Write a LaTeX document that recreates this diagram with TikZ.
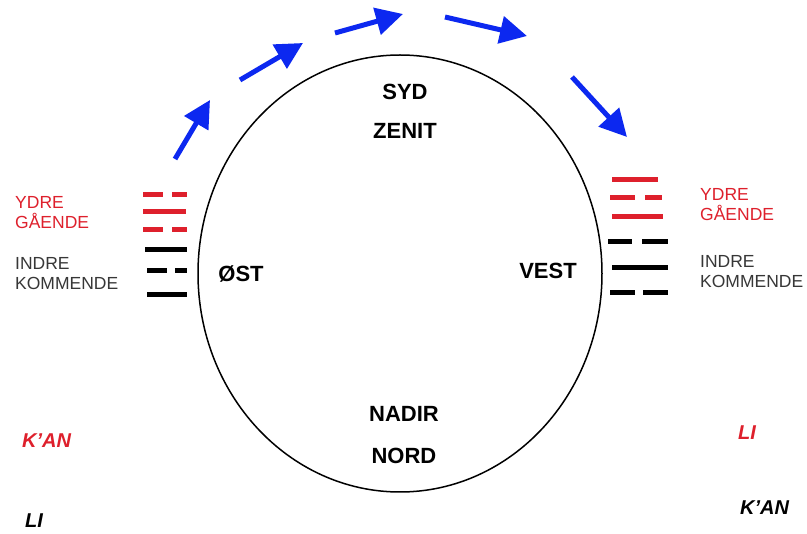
\documentclass[tikz,border=0pt]{standalone}
\usepackage{fontspec}
\setmainfont{Liberation Sans}
\usetikzlibrary{arrows.meta}
\definecolor{yred}{RGB}{222,32,44}
\definecolor{ytxt}{RGB}{55,55,55}
\definecolor{yblue}{RGB}{12,40,240}
\begin{document}
\begin{tikzpicture}[x=1pt,y=-1pt,
  big/.style={font=\fontsize{22}{22}\selectfont\bfseries, text=black, inner sep=0pt},
  side/.style={font=\fontsize{17.5}{20}\selectfont, align=left, anchor=west, inner sep=0pt},
  gua/.style={font=\fontsize{20}{20}\selectfont\bfseries\itshape, anchor=west, inner sep=0pt},
  yline/.style={line width=5pt, line cap=butt},
  sunarrow/.style={yblue, line width=5pt, -{Triangle[length=27pt,width=27pt]}}]
\useasboundingbox (0,0) rectangle (807,534);
\fill[white] (0,0) rectangle (807,534);
% circle of the sky
\draw[line width=1.5pt] (400,273.5) ellipse [x radius=202, y radius=218.5];
% directions
\node[big] (syd) at (405,92) {SYD};
\node[big] (zenit) at (405,131) {ZENIT};
\node[big] (nadir) at (404,414) {NADIR};
\node[big] (nord) at (404,456) {NORD};
\node[big] (ost) at (241,274) {ØST};
\node[big] (vest) at (548,271) {VEST};
% side labels
\node[side, text=yred] (ly) at (15,213) {YDRE\\GÅENDE};
\node[side, text=ytxt] (li) at (15,274) {INDRE\\KOMMENDE};
\node[side, text=yred] (ry) at (700,205) {YDRE\\GÅENDE};
\node[side, text=ytxt] (ri) at (700,272) {INDRE\\KOMMENDE};
% trigram names
\node[gua, text=yred] (lkan) at (22,441) {K'AN};
\node[gua, text=black] (lli) at (25,521) {LI};
\node[gua, text=yred] (rli) at (738,433) {LI};
\node[gua, text=black] (rkan) at (740,508) {K'AN};
% left trigrams
\draw[yline, yred] (143,195) -- (163,195) (172,195) -- (187,195);
\draw[yline, yred] (143,212) -- (186,212);
\draw[yline, yred] (143,230) -- (163,230) (172,230) -- (187,230);
\draw[yline, black] (145,250) -- (187,250);
\draw[yline, black] (147,271) -- (167,271) (175,271) -- (187,271);
\draw[yline, black] (147,295) -- (187,295);
% right trigrams
\draw[yline, yred] (612,180) -- (658,180);
\draw[yline, yred] (610,198) -- (635,198) (645,198) -- (662,198);
\draw[yline, yred] (612,217) -- (663,217);
\draw[yline, black] (608,242) -- (632,242) (642,242) -- (668,242);
\draw[yline, black] (612,268) -- (668,268);
\draw[yline, black] (610,293) -- (635,293) (643,293) -- (668,293);
% sun path arrows
\coordinate (a1s) at (175,159); \coordinate (a1e) at (210,100);
\coordinate (a2s) at (240,80);  \coordinate (a2e) at (303,43);
\coordinate (a3s) at (335,33);  \coordinate (a3e) at (403,14);
\coordinate (a4s) at (445,17);  \coordinate (a4e) at (527,36);
\coordinate (a5s) at (572,77);  \coordinate (a5e) at (627,137);
\draw[sunarrow] (a1s) -- (a1e);
\draw[sunarrow] (a2s) -- (a2e);
\draw[sunarrow] (a3s) -- (a3e);
\draw[sunarrow] (a4s) -- (a4e);
\draw[sunarrow] (a5s) -- (a5e);
\end{tikzpicture}
\end{document}
